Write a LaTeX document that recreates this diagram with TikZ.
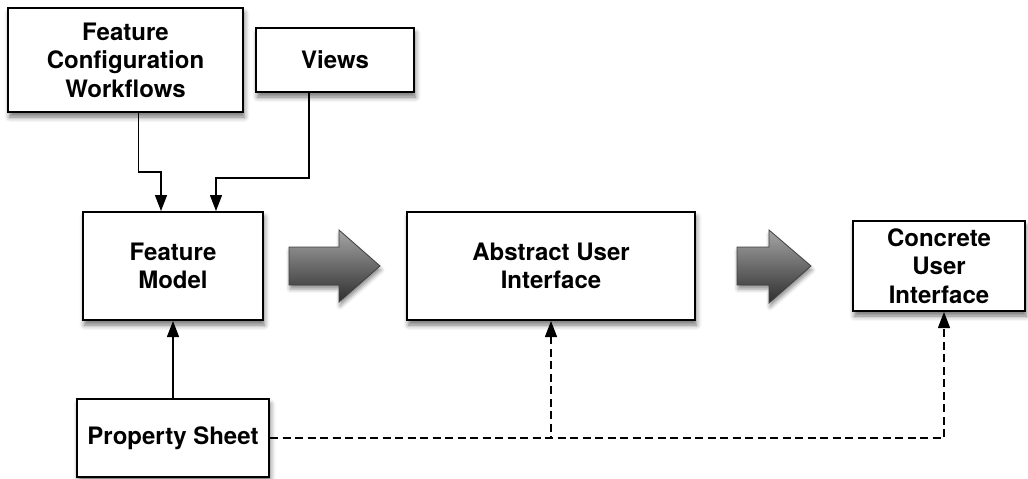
\documentclass[tikz,border=0pt]{standalone}
\usepackage{fontspec}
\setmainfont{TeX Gyre Heros}
\usetikzlibrary{arrows.meta,shadows.blur,calc}
\begin{document}
\begin{tikzpicture}[x=1pt,y=-1pt,
  box/.style={draw=black, line width=2pt, fill=white, align=center,
    inner sep=0pt,
    font=\fontsize{24}{28.5}\selectfont\bfseries,
    blur shadow={shadow xshift=1.5pt, shadow yshift=-5pt, shadow blur radius=5pt, shadow opacity=55}},
  conn/.style={draw=black, line width=1.4pt, -{Triangle[length=16pt,width=12pt]}},
  dconn/.style={conn, dash pattern=on 8pt off 4.5pt},
  bigarrow/.style={draw=black!75, line width=0.8pt, top color=black!35, bottom color=black!82,
    blur shadow={shadow xshift=1pt, shadow yshift=-4pt, shadow blur radius=4pt, shadow opacity=45}}
]
\useasboundingbox (0,0) rectangle (1028,479);

\node[box, minimum width=235pt, minimum height=104pt] (fcw) at (125.5,60) {Feature\\Configuration\\Workflows};
\node[box, minimum width=158pt, minimum height=64pt] (views) at (335,60) {Views};
\node[box, minimum width=180pt, minimum height=108pt] (fm) at (173,266) {Feature\\Model};
\node[box, minimum width=288pt, minimum height=108pt] (aui) at (551,266) {Abstract User\\Interface};
\node[box, minimum width=172pt, minimum height=90pt] (cui) at (939,266) {Concrete\\User\\Interface};
\node[box, minimum width=192pt, minimum height=78pt] (ps) at (173,438) {Property Sheet};

% big transformation arrows
\path[bigarrow] (289,247) -- (339,247) -- (339,230) -- (380,266) -- (339,302) -- (339,285) -- (289,285) -- cycle;
\path[bigarrow] (737,247) -- (769,247) -- (769,230) -- (811,266) -- (769,303) -- (769,285) -- (737,285) -- cycle;

% connectors
\draw[conn] ([xshift=13pt]fcw.south) -- ++(0,59) -| ([xshift=-12pt]fm.north);
\draw[conn] ([xshift=-26pt]views.south) -- ++(0,85) -| ([xshift=43pt]fm.north);
\draw[conn] (ps.north) -- (fm.south);
\draw[dconn] (ps.east) -| (aui.south);
\draw[dconn] (ps.east) -| ([xshift=5pt]cui.south);
\end{tikzpicture}
\end{document}
